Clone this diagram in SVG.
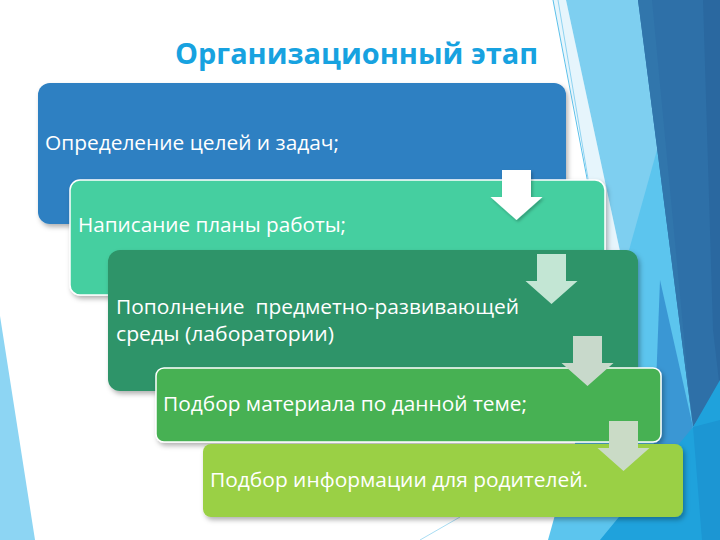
<svg xmlns="http://www.w3.org/2000/svg" width="720" height="540" viewBox="0 0 720 540">
  <defs>
    <style>
      .box-text { font-family: "Open Sans", "Liberation Sans", sans-serif; font-size: 20.5px; fill: #ffffff; }
      .title { font-family: "Open Sans", "Liberation Sans", sans-serif; font-size: 29px; font-weight: bold; fill: #17A2E0; }
      .bordered { stroke: #ffffff; stroke-width: 1.5; }
    </style>
    <filter id="shadow" x="-5%" y="-10%" width="115%" height="130%">
      <feDropShadow dx="2" dy="3" stdDeviation="2.5" flood-color="#000000" flood-opacity="0.3"/>
    </filter>
    <filter id="ashadow" x="-20%" y="-20%" width="150%" height="150%">
      <feDropShadow dx="1.5" dy="2" stdDeviation="1.5" flood-color="#000000" flood-opacity="0.25"/>
    </filter>
    <path id="arrow" d="M0,0 H29 V27 H40.5 L14.5,50 L-11.5,27 H0 Z"/>
  </defs>

  <!-- background -->
  <rect x="0" y="0" width="720" height="540" fill="#ffffff"/>
  <g id="background">
    <polygon points="553,0 566,0 682,540 660,540" fill="#E6F5FC"/>
    <line x1="553" y1="0" x2="656" y2="540" stroke="#5BC0EA" stroke-width="1"/>
    <line x1="558" y1="0" x2="600" y2="250" stroke="#8ED3F1" stroke-width="1"/>
    <polygon points="566,0 720,0 720,540 682,540" fill="#7ECFF0"/>
    <polygon points="657,150 548,540 720,540 720,150" fill="#5CC5EE"/>
    <polygon points="638,0 720,0 720,390 693,427" fill="#2E70A8"/>
    <polygon points="638,0 652,0 690,400 693,427" fill="#3176AC"/>
    <polygon points="703,0 720,0 720,390 713,330" fill="#2A68A0"/>
    <polygon points="660,280 693,427 652,490" fill="#3A97D4"/>
    <polygon points="693,427 720,380 720,540 600,540" fill="#1FA2DC"/>
    <polygon points="693,427 720,420 720,540 702,540" fill="#1C96D3"/>
    <line x1="420" y1="540" x2="460" y2="517" stroke="#A9DDF3" stroke-width="1"/>
    <polygon points="0,316 35,540 0,540" fill="#8DD5F3"/>
  </g>

  <text class="title" x="538" y="64" text-anchor="end" textLength="363" lengthAdjust="spacingAndGlyphs">Организационный этап</text>

  <g id="box1">
    <rect x="38" y="83" width="528" height="141" rx="12" fill="#2E80C2" filter="url(#shadow)"/>
    <text class="box-text" x="45" y="150" textLength="294" lengthAdjust="spacingAndGlyphs">Определение целей и задач;</text>
  </g>
  <g id="box2">
    <rect x="70" y="180" width="535" height="115" rx="10" fill="#44CFA0" class="bordered" filter="url(#shadow)"/>
    <text class="box-text" x="78" y="232" textLength="268" lengthAdjust="spacingAndGlyphs">Написание планы работы;</text>
  </g>
  <g id="box3">
    <rect x="108" y="250" width="530" height="141" rx="12" fill="#2E9469" filter="url(#shadow)"/>
    <text class="box-text" x="116" y="314" textLength="403" lengthAdjust="spacingAndGlyphs" xml:space="preserve">Пополнение  предметно-развивающей</text>
    <text class="box-text" x="116" y="341" textLength="218" lengthAdjust="spacingAndGlyphs">среды (лаборатории)</text>
  </g>
  <g id="box4">
    <rect x="156" y="368" width="505" height="74" rx="8" fill="#46B152" class="bordered" filter="url(#shadow)"/>
    <text class="box-text" x="163" y="411" textLength="364" lengthAdjust="spacingAndGlyphs">Подбор материала по данной теме;</text>
  </g>
  <g id="box5">
    <rect x="203" y="444" width="480" height="73" rx="8" fill="#9AD044" filter="url(#shadow)"/>
    <text class="box-text" x="210" y="487" textLength="378" lengthAdjust="spacingAndGlyphs">Подбор информации для родителей.</text>
  </g>

  <g id="connectors">
    <use href="#arrow" x="502" y="170" fill="#ffffff" filter="url(#ashadow)"/>
    <use href="#arrow" x="537" y="254" fill="#C3E6D4"/>
    <use href="#arrow" x="573" y="336" fill="#C8D9CB"/>
    <use href="#arrow" x="609" y="421" fill="#CADBC6"/>
  </g>
</svg>
